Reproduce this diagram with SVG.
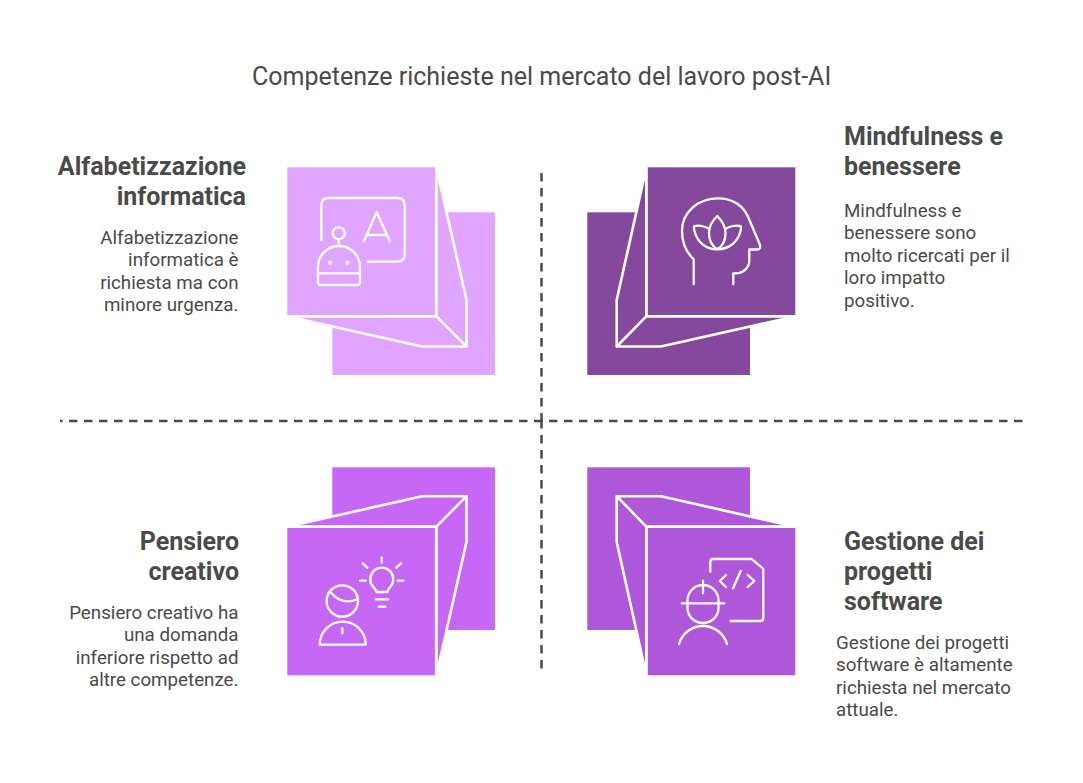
<svg xmlns="http://www.w3.org/2000/svg" width="1083" height="783" viewBox="0 0 1083 783">
<style>
text{font-family:Roboto,"Liberation Sans",sans-serif;fill:#4a4a4a}
.t{font-size:25px}
.h{font-size:25px;font-weight:700}
.b{font-size:18.750px}
.e{text-anchor:end}
.o{stroke:#fff;stroke-width:2.600;stroke-linecap:round;stroke-linejoin:round}
.i{fill:none;stroke:#fff;stroke-width:2.300;stroke-linecap:round;stroke-linejoin:round}
.d{fill:none;stroke:#4a4a4a;stroke-width:2.500;stroke-dasharray:8.500 6.500}
</style>
<rect width="1083" height="783" fill="#fff"/>
<text id="title" class="t" x="252" y="85">Competenze richieste nel mercato del lavoro post-AI</text>
<g id="connectors">
<path class="d" d="M541.500 173V421.500"/>
<path class="d" d="M541.500 420V670"/>
<path class="d" stroke-dashoffset="6" d="M60 421H1023"/>
</g>
<g id="node-alfabetizzazione">
<rect x="332.300" y="212.300" width="162.700" height="162.700" fill="#e0a5ff"/>
<path class="o" fill="#e0a5ff" d="M436.200 316.200L466.500 346.500V300L436.200 167ZM436.200 316.200L466.500 346.500H422L287 316.200Z"/>
<rect x="287.300" y="167.300" width="148.700" height="148.700" fill="#e0a5ff"/>
<path class="o" fill="none" d="M436.200 168V316.200H288"/>
<path class="i" d="M321.300 240V205Q321.300 198 329 198H397Q404.700 198 404.700 205V254Q404.700 261.700 397 261.700H367.500"/>
<path class="i" d="M364 241L376.700 212.300L389.700 241M367.500 235H386"/>
<circle class="i" cx="338.700" cy="233.300" r="6"/>
<path class="i" d="M338.700 239.300V246M318 273.300H360M318 282V267A21 21 0 0 1 360 267V282Q360 285 357 285H321Q318 285 318 282Z"/>
<circle cx="330" cy="262.700" r="2" fill="#fff"/>
<circle cx="347.300" cy="262.700" r="2" fill="#fff"/>
<text class="h e" x="246" y="174.500">Alfabetizzazione</text>
<text class="h e" x="246" y="204.500">informatica</text>
<text class="b e" x="238.500" y="243.500">Alfabetizzazione</text>
<text class="b e" x="238.500" y="266">informatica è</text>
<text class="b e" x="238.500" y="288.500">richiesta ma con</text>
<text class="b e" x="238.500" y="311">minore urgenza.</text>
</g>
<g id="node-mindfulness">
<rect x="587.300" y="212.300" width="162.700" height="162.700" fill="#84489c"/>
<path class="o" fill="#84489c" d="M646.500 316.200L616.700 346.500V300L646.500 167ZM646.500 316.200L616.700 346.500H661L796 316.200Z"/>
<rect x="647" y="167.300" width="148.300" height="148.700" fill="#84489c"/>
<path class="o" fill="none" d="M646.500 168V316.200H795"/>
<path class="i" d="M693.700 284.300V259.300C686 252 682 243 682 231C682 212 698 198.300 718.300 198.300C733 198.300 744 206 749 219L760 245Q761 249.500 757 249.500H749.300V260C749.300 268 743 273.300 736 273.300H733.300V284.300"/>
<path class="i" d="M717.300 216C711 222 709 228 709 233C709 240 712 246 717.300 249.300C723 246 725.500 240 725.500 233C725.500 228 723 222 717.300 216Z"/>
<path class="i" d="M709.500 229C704 226 699 225 695 226C693.500 226 694 229 694.500 231C697 242 706 249.300 717.300 249.300C729 249.300 738 242 740.500 231C741 229 741.500 226 740 226C735 225 730 226 725 229"/>
<text class="h" x="844" y="144.500">Mindfulness e</text>
<text class="h" x="844" y="174.500">benessere</text>
<text class="b" x="844" y="216.500">Mindfulness e</text>
<text class="b" x="844" y="239">benessere sono</text>
<text class="b" x="844" y="261.500">molto ricercati per il</text>
<text class="b" x="844" y="284">loro impatto</text>
<text class="b" x="844" y="306.500">positivo.</text>
</g>
<g id="node-pensiero">
<rect x="332.300" y="467.300" width="162.700" height="162.700" fill="#c667f5"/>
<path class="o" fill="#c667f5" d="M436.200 526.800L466.500 496.200V542L436.200 676ZM436.200 526.800L466.500 496.200H422L287 526.800Z"/>
<rect x="287.300" y="527" width="148.700" height="148.300" fill="#c667f5"/>
<path class="o" fill="none" d="M288 526.800H436.200V675"/>
<path class="i" d="M376.500 592C376 589 374 588 372.500 586A11.500 11.500 0 1 1 391 586C389.500 588 387.500 589 387.500 592Z"/>
<path class="i" d="M381.700 557.700V562.700M362.700 563.300L367.300 567.700M401 563.300L396.300 567.700M360 580.700H365.700M397.700 580.700H403.300M375.700 599.300H388.300M378.700 606.700H385.300"/>
<circle class="i" cx="342.300" cy="601" r="15.700"/>
<path class="i" d="M330 591.700Q342 606 357.300 599.300M319.700 644.700H365.700A23 23 0 0 0 319.700 644.700ZM342.300 628.300V633.300"/>
<text class="h e" x="239" y="549.500">Pensiero</text>
<text class="h e" x="239" y="579.500">creativo</text>
<text class="b e" x="238.500" y="618.500">Pensiero creativo ha</text>
<text class="b e" x="238.500" y="641">una domanda</text>
<text class="b e" x="238.500" y="663.500">inferiore rispetto ad</text>
<text class="b e" x="238.500" y="686">altre competenze.</text>
</g>
<g id="node-gestione">
<rect x="587.300" y="467.300" width="162.700" height="162.700" fill="#ae57d8"/>
<path class="o" fill="#ae57d8" d="M646.500 526.800L616.700 496.200V542L646.500 676ZM646.500 526.800L616.700 496.200H661L796 526.800Z"/>
<rect x="647" y="527" width="148.300" height="148.300" fill="#ae57d8"/>
<path class="o" fill="none" d="M795 526.800H646.500V675"/>
<path class="i" d="M710.300 571.700V562Q710.300 559 713 559H751.700L763.300 569V618Q763.300 621 760 621H730.700"/>
<path class="i" d="M726 575L719.700 581L726 587M747.700 575L754.300 581L747.700 587M740.700 571L733 588.300"/>
<path class="i" d="M681.700 603.300H724.300M687.500 603.300V608A15.500 15 0 0 0 718.500 608V600.500A15.500 15.500 0 0 0 687.500 600.500V603.300M703 580.700V593.300M679 644A25 25 0 0 1 727 644"/>
<text class="h" x="844" y="549.500">Gestione dei</text>
<text class="h" x="844" y="579.500">progetti</text>
<text class="h" x="844" y="609.500">software</text>
<text class="b" x="836" y="648.500">Gestione dei progetti</text>
<text class="b" x="836" y="671">software è altamente</text>
<text class="b" x="836" y="693.500">richiesta nel mercato</text>
<text class="b" x="836" y="716">attuale.</text>
</g>
</svg>
